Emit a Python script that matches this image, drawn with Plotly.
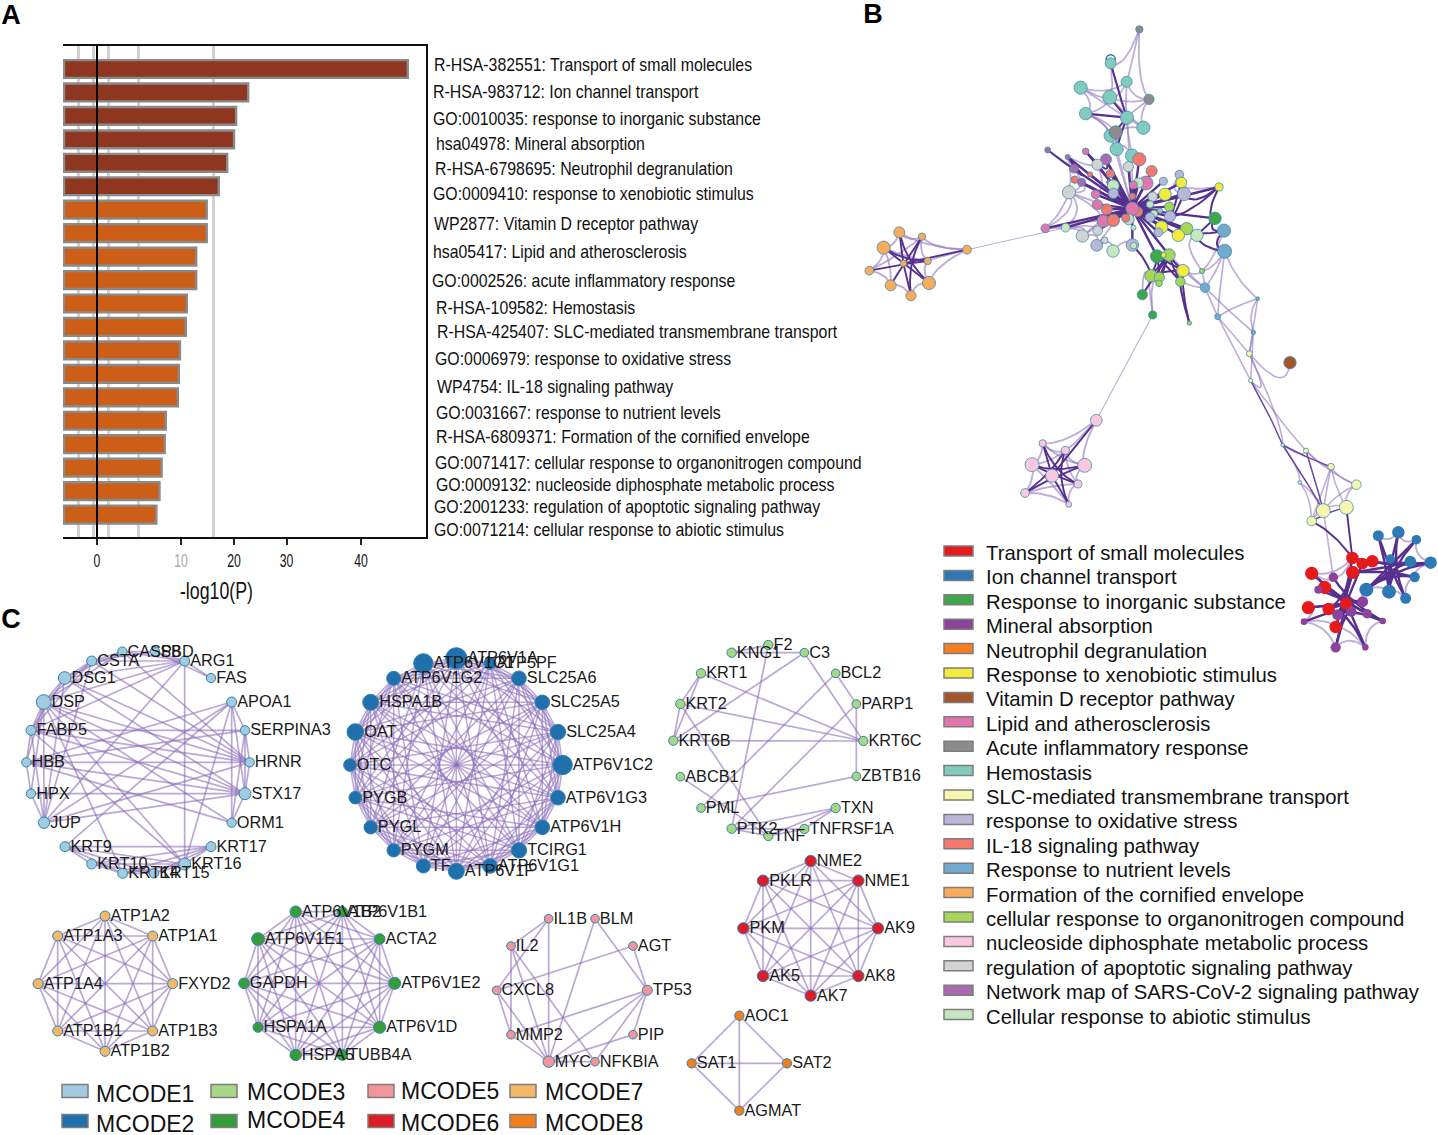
import plotly.graph_objects as go

W, H = 1438, 1135

# ---------- Panel A data ----------
bar_ends = [59.2, 28.8, 26.5, 26.1, 24.8, 23.2, 20.9, 20.9, 18.9, 18.9,
            17.1, 16.9, 15.8, 15.6, 15.4, 13.1, 12.9, 12.3, 11.9, 11.3]
n_dark_bars = 6
tick_vals = [0, 16, 26.1, 36.1, 50.3]
tick_text = ["0", '<span style="color:#a8a8a8">10</span>', "20", "30", "40"]
grid_vals = [-3.6, -0.7, 2.1, 7.9, 22.1]
term_labels = [
    "R-HSA-382551: Transport of small molecules",
    "R-HSA-983712: Ion channel transport",
    "GO:0010035: response to inorganic substance",
    "hsa04978: Mineral absorption",
    "R-HSA-6798695: Neutrophil degranulation",
    "GO:0009410: response to xenobiotic stimulus",
    "WP2877: Vitamin D receptor pathway",
    "hsa05417: Lipid and atherosclerosis",
    "GO:0002526: acute inflammatory response",
    "R-HSA-109582: Hemostasis",
    "R-HSA-425407: SLC-mediated transmembrane transport",
    "GO:0006979: response to oxidative stress",
    "WP4754: IL-18 signaling pathway",
    "GO:0031667: response to nutrient levels",
    "R-HSA-6809371: Formation of the cornified envelope",
    "GO:0071417: cellular response to organonitrogen compound",
    "GO:0009132: nucleoside diphosphate metabolic process",
    "GO:2001233: regulation of apoptotic signaling pathway",
    "GO:0071214: cellular response to abiotic stimulus",
]
term_x = [434, 433, 433, 436, 435, 433, 434, 433, 432, 436, 437, 435, 437, 436, 436, 435, 436, 434, 434]
term_y = [66, 93, 120, 145, 170, 195, 225, 253, 282, 309, 333, 360, 388, 414, 438, 464, 486, 508, 531]

# ---------- Panel B legend ----------
cluster_names = [
    "Transport of small molecules", "Ion channel transport", "Response to inorganic substance",
    "Mineral absorption", "Neutrophil degranulation", "Response to xenobiotic stimulus",
    "Vitamin D receptor pathway", "Lipid and atherosclerosis", "Acute inflammatory response",
    "Hemostasis", "SLC-mediated transmembrane transport", "response to oxidative stress",
    "IL-18 signaling pathway", "Response to nutrient levels", "Formation of the cornified envelope",
    "cellular response to organonitrogen compound", "nucleoside diphosphate metabolic process",
    "regulation of apoptotic signaling pathway", "Network map of SARS-CoV-2 signaling pathway",
    "Cellular response to abiotic stimulus",
]
cluster_colors = [
    "#E41A1C", "#2E78B5", "#3FA64A", "#8C439C", "#F57F20", "#F2EA3C", "#A5562B", "#E275AE", "#8C8C8C", "#83CBBE",
    "#F6F6AE", "#B9B6D8", "#F6776C", "#74A9CF", "#F7AB5B", "#A6D55A", "#F9C8DF", "#D3D3D3", "#A96BB0", "#C6E6BF",
]

# ---------- Panel B network: (crop x, crop y, crop diameter, cluster) read from 3x views ----------
top_nodes = [(838,28,20,8),(752,130,30,9),(800,185,30,9),(662,203,36,9),(749,232,38,9),(867,238,28,8),
             (677,281,34,9),(801,293,36,9),(850,323,36,9),(752,347,36,9),(767,337,36,8),(770,387,36,9),(816,407,36,9)]
top_dark = [(1,7),(6,7),(4,7),(7,10),(7,11)]
top_light = [(0,2),(0,1),(0,5),(5,8),(3,4),(3,6),(3,7),(4,5),(6,4),(8,7),(8,10),(9,6),(10,11),(11,12),(7,12),(2,7),(5,7),(6,10),
             (3,2),(5,2),(8,4),(6,9),(2,4),(1,4),(9,11)]

core_nodes = [(563,390,16,18),(623,411,14,18),(677,394,18,7),(738,418,30,18),(642,446,24,18),(712,434,30,17),(805,440,28,17),
    (838,418,36,12),(875,453,30,12),(958,464,24,11),(690,463,14,12),(751,461,22,12),(644,479,20,12),(665,487,22,18),
    (750,488,18,18),(760,497,32,19),(964,488,30,5),(910,484,22,11),(858,489,38,7),(835,489,28,19),(820,495,22,7),
    (1077,501,22,5),(627,517,36,17),(707,523,24,7),(760,520,28,11),(817,529,18,12),(915,523,34,5),(972,522,36,11),
    (878,530,26,17),(870,553,20,19),(928,560,26,15),(712,554,28,7),(740,568,30,12),(833,575,28,12),(817,566,36,7),
    (900,572,14,11),(882,581,20,19),(870,592,26,11),(930,589,30,11),(1065,595,34,2),(730,603,34,7),(760,601,34,12),
    (806,598,30,17),(797,594,22,12),(617,623,24,19),(556,625,24,7),(905,621,34,5),(980,626,34,15),(1092,632,36,13),
    (713,632,26,17),(895,637,24,11),(820,623,14,19),(955,646,34,5),(1011,646,34,19),(667,648,34,17),(734,661,18,17),
    (710,676,32,11),(817,675,34,11),(821,677,18,19),(759,693,34,19),(1094,694,38,13),(891,709,36,2),(927,705,34,15),
    (911,705,14,5),(873,767,34,15),(898,772,28,15),(969,752,34,5),(961,785,26,15),(1026,753,14,15),(897,790,18,15),
    (1035,803,26,13),(847,824,28,2),(878,885,22,2),(988,909,12,15),(1073,890,16,13),(1180,937,12,13),(1193,836,10,13)]
core_hub = 34
core_hub_targets = [1,2,3,4,5,6,7,8,10,11,12,13,14,15,16,17,18,19,20,21,23,24,25,26,27,28,29,30,31,32,33,35,36,37,38,39,
                    40,41,42,43,44,45,46,47,49,50,52,53,57,61,62]
core_dark = [(0,1),(1,4),(2,3),(3,11),(21,27),(21,38),(21,39),(39,48),(47,48),(48,60),(53,60),(39,53),(27,38),(16,38),
             (61,64),(61,66),(61,67),(62,64),(62,65),(62,66),(62,67),(62,69),(61,69),(67,73),(66,73),(64,66),(62,71),(57,64)]
core_light = [(22,44),(45,44),(45,54),(44,54),(22,13),(22,40),(45,22),(45,1),(21,16),(53,68),(72,69),(71,64),(72,64),
              (54,56),(56,59),(59,57),(4,22),(1,3),(0,4),(5,23),(9,27),(54,40),(56,41),(45,40),(44,49),(54,32),(22,31)]
core_lower_light = [(60,68),(68,70),(70,74),(70,75),(76,75),(74,76),(60,70),(60,76),(48,68),(62,70),(67,70),(66,70),
                    (66,68),(60,74),(47,60)]

chain_nodes = [(870,68,34,6),(748,41,16,10),(752,122,12,10),(848,315,10,19),(918,332,14,10),(993,380,18,10),(899,427,10,19),
               (1069,434,26,10),(970,512,38,10),(1039,502,38,10),(935,543,26,10)]
chain_dark = [(2,3),(3,5),(3,8),(4,8),(10,9)]
chain_light = [(1,0),(1,2),(1,3),(3,4),(3,6),(4,5),(5,7),(5,8),(5,9),(6,8),(6,10),(7,9),(7,8),(8,9),(10,8),(5,10),(4,7),(2,4)]

nucleoside_nodes = [(289,241,32,16),(128,310,20,16),(196,331,22,16),(96,374,38,16),(254,376,38,16),(156,407,36,16),
                    (234,432,22,16),(75,459,24,16),(206,493,16,16)]
nucleoside_dark = [(1,6),(2,7),(3,4),(8,2),(0,5),(7,4),(3,6),(5,1),(5,8)]
nucleoside_light = [(0,1),(0,4),(0,2),(1,2),(1,3),(2,4),(3,7),(4,6),(6,8),(7,8),(3,8),(1,4),(7,6),(2,6),(3,2)]

cornified_nodes = [(321,689,24,14),(118,637,30,14),(186,650,20,14),(71,683,36,14),(203,723,20,14),(130,730,18,14),
                   (28,752,24,14),(207,789,36,14),(92,796,30,14),(153,827,28,14)]
cornified_dark = [(1,7),(2,8),(3,4),(6,4),(9,2),(0,5),(3,7),(5,1),(5,9)]
cornified_light = [(1,2),(1,3),(3,6),(6,8),(8,9),(9,7),(7,4),(2,4),(3,8),(0,2),(0,7),(0,1),(3,4),(0,4),(6,2)]

tail_nodes = [(1135,587,30,1),(1195,577,34,1),(1249,599,26,1),(1171,657,26,1),(1231,665,32,1),(1292,668,34,1),(1244,711,28,1),
              (1099,749,38,1),(1167,755,38,1),(1217,775,30,1),
              (1057,654,34,0),(1087,671,32,0),(1117,664,34,0),(935,700,36,0),(1058,697,36,0),(974,742,36,0),(925,803,36,0),
              (986,807,34,0),(1038,791,34,0),(1007,861,34,0),
              (1000,712,26,3),(955,749,22,3),(1088,785,30,3),(1013,824,30,3),(1054,815,28,3),(1101,821,26,3),(912,845,18,3),
              (1148,843,18,3),(1007,922,28,3),(1096,922,18,3)]
tail_blue_dark = [(0,9),(1,8),(2,7),(4,7),(5,7),(6,7),(3,8),(5,12),(6,14),(2,8),(4,14),(5,10),(0,8),(1,9)]
tail_blue_light = [(0,1),(1,2),(2,5),(5,6),(6,9),(9,8),(8,7),(4,5),(3,4)]
tail_red_dark = [(13,18),(15,18),(16,18),(17,14),(19,10),(21,22),(23,14),(26,24),(28,18),(28,24),(29,23),(16,22),(27,23),
                 (27,20),(13,25),(15,25),(17,18),(11,18),(29,24),(19,14)]
tail_red_light = [(16,26),(26,28),(28,29),(29,27),(27,25),(25,22),(22,7),(10,13),(13,20),(20,10),(26,19),(19,29),(24,27)]

# ---------- Panel C modules: (gene, crop x, crop y, crop diameter) ----------
m1_nodes = [("ARG1",524,93,30),("FAS",603,144,28),("APOA1",665,216,30),("SERPINA3",705,301,28),("HRNR",719,397,28),
    ("STX17",705,491,36),("ORM1",665,578,28),("KRT17",603,650,30),("KRT16",524,702,36),("KRT15",432,730,28),
    ("KRT14",338,730,30),("KRT10",245,702,30),("KRT9",165,650,30),("JUP",102,578,34),("HPX",63,491,28),("HBB",49,397,28),
    ("FABP5",63,301,30),("DSP",101,216,44),("DSG1",164,144,38),("CSTA",245,93,30),("CASP8",337,65,28),("SBD",435,65,28)]
m1_edges = [(0,1),(0,21),(0,20),(0,19),(0,18),(0,17),(0,16),(0,8),(0,13),(1,21),(2,3),(2,6),(2,5),(2,8),(2,13),(2,12),(2,15),
    (3,4),(3,5),(3,6),(3,16),(3,15),(4,5),(4,13),(4,15),(4,16),(4,17),(4,18),(4,19),(4,20),(5,6),(5,13),(5,14),(5,15),(5,16),
    (5,17),(5,18),(6,15),(6,17),(7,8),(7,9),(7,10),(7,11),(7,12),(8,9),(8,10),(8,11),(8,12),(8,17),(8,16),(9,10),(9,11),(9,12),
    (10,11),(10,12),(10,17),(11,12),(13,14),(13,16),(13,17),(13,18),(13,19),(14,15),(14,17),(15,16),(15,17),(16,17),(16,18),
    (16,19),(17,18),(17,19),(17,20),(18,19),(18,20),(19,20),(20,21),(19,21)]
m2_nodes = [("ATP6V1A",349,85,64),("ATP5PF",450,100,36),("SLC25A6",537,145,44),("SLC25A5",607,217,44),("SLC25A4",654,306,46),
    ("ATP6V1C2",668,405,58),("ATP6V1G3",654,503,44),("ATP6V1H",607,592,44),("TCIRG1",537,661,46),("ATP6V1G1",450,708,44),
    ("ATP6V1F",349,724,48),("TF",250,708,42),("PYGM",161,661,40),("PYGL",92,592,40),("PYGB",46,503,38),("OTC",30,405,38),
    ("OAT",46,306,50),("HSPA1B",92,217,48),("ATP6V1G2",161,145,42),("ATP6V1C1",250,100,58)]
m2_chord_steps = [1, 2, 3, 4, 6, 7, 9, 10]
m3_nodes = [("F2",325,45,28),("C3",433,68,26),("BCL2",527,130,26),("PARP1",589,222,26),("KRT6C",610,333,28),("ZBTB16",589,439,26),
    ("TXN",527,534,28),("TNFRSF1A",433,597,28),("TNF",325,618,28),("PTK2",215,596,28),("PML",123,534,26),("ABCB1",61,440,26),
    ("KRT6B",40,332,28),("KRT2",61,222,28),("KRT1",123,130,28),("KNG1",215,68,28)]
m3_edges = [(0,15),(15,1),(0,9),(1,4),(1,12),(2,3),(2,10),(3,9),(3,5),(14,4),(13,4),(12,4),(14,13),(14,12),(13,12),(13,8),
            (11,8),(5,10),(6,7),(6,8),(6,9),(7,8),(9,8),(9,7)]
m4_nodes = [("ATP6V1B2",887,65,34),("ATP6V1B1",1027,65,30),("ACTA2",1139,147,32),("ATP6V1E2",1184,280,36),("ATP6V1D",1139,412,36),
    ("TUBB4A",1027,495,32),("HSPA5",887,495,34),("HSPA1A",774,412,30),("GAPDH",732,280,32),("ATP6V1E1",774,147,38)]
m5_nodes = [("IL1B",206,236,26),("BLM",345,236,26),("AGT",459,318,26),("TP53",502,451,30),("PIP",459,584,26),("NFKBIA",345,665,26),
    ("MYC",206,665,34),("MMP2",93,584,26),("CXCL8",50,451,26),("IL2",93,318,26)]
m5_edges = [(0,9),(0,8),(0,6),(9,7),(9,6),(9,5),(8,7),(8,6),(8,2),(7,6),(7,3),(6,5),(6,3),(6,4),(5,3),(4,3),(2,3),(1,3),(1,6)]
m6_nodes = [("NME2",992,63,34),("NME1",1135,122,34),("AK9",1194,265,34),("AK8",1135,408,34),("AK7",992,467,34),("AK5",849,408,34),
    ("PKM",790,265,34),("PKLR",849,122,34)]
m7_nodes = [("ATP1A2",315,78,30),("ATP1A1",458,138,30),("FXYD2",518,281,30),("ATP1B3",458,423,30),("ATP1B2",315,484,30),
    ("ATP1B1",173,423,30),("ATP1A4",114,281,30),("ATP1A3",173,138,30)]
m8_nodes = [("AOC1",778,527,28),("SAT2",921,670,28),("AGMAT",778,812,28),("SAT1",635,670,28)]

mcode_names = ["MCODE1", "MCODE2", "MCODE3", "MCODE4", "MCODE5", "MCODE6", "MCODE7", "MCODE8"]
mcode_colors = ["#A3CBE0", "#1F70AC", "#A7D687", "#359E3A", "#F29599", "#DC1C26", "#F5B868", "#F0801E"]
mcode_swatch = [(62, 1091), (62, 1121), (211, 1091), (211, 1121), (368, 1091), (368, 1121), (510, 1091), (510, 1121)]
mcode_text_y = [1096, 1126, 1094, 1122, 1093, 1125, 1094, 1125]
mcode_text_x = [96, 96, 247, 247, 401, 401, 545, 545]

# ---------- helpers ----------
EDGE_LIGHT = "rgba(146,120,190,0.6)"
EDGE_DARK = "#56308F"
NARROW = "Liberation Sans, Arimo"   # condensed by the page script below
B_NODE_SCALE = 1.1


def cvt(p, ox, oy):
    return ox + p[0] / 3.0, oy + p[1] / 3.0


def bezier_segments(pairs, centre, pull):
    xs, ys = [], []
    for a, b in pairs:
        cx = (a[0] + b[0]) / 2 + pull * (centre[0] - (a[0] + b[0]) / 2)
        cy = (a[1] + b[1]) / 2 + pull * (centre[1] - (a[1] + b[1]) / 2)
        for k in range(13):
            t = k / 12
            xs.append((1 - t) ** 2 * a[0] + 2 * t * (1 - t) * cx + t ** 2 * b[0])
            ys.append((1 - t) ** 2 * a[1] + 2 * t * (1 - t) * cy + t ** 2 * b[1])
        xs.append(None)
        ys.append(None)
    return xs, ys


fig = go.Figure()
XA = dict(xaxis="x2", yaxis="y2")


def add_edges(pairs, centre, pull, color, width):
    xs, ys = bezier_segments(pairs, centre, pull)
    fig.add_trace(go.Scatter(x=xs, y=ys, mode="lines", line=dict(color=color, width=width),
                             hoverinfo="skip", showlegend=False, **XA))


# ---------- Panel A ----------
x_left = -6.29
bar_colors = ["#8E3620" if i < n_dark_bars else "#CC5E17" for i in range(len(bar_ends))]
fig.add_trace(go.Bar(y=list(range(len(bar_ends))), x=[v - x_left for v in bar_ends], base=x_left, orientation="h",
                     width=0.76, marker=dict(color=bar_colors, line=dict(color="#8A8A8A", width=2.4)),
                     showlegend=False, hoverinfo="skip"))
fig.add_trace(go.Scatter(x=[0, 0], y=[-0.98, 20.22], mode="lines", line=dict(color="black", width=2),
                         cliponaxis=False, showlegend=False, hoverinfo="skip"))
fig.add_trace(go.Scatter(x=term_x, y=term_y, text=term_labels, mode="text", textposition="middle right",
                         textfont=dict(family=NARROW, size=18.5, color="#111"),
                         showlegend=False, hoverinfo="skip", **XA))
fig.add_trace(go.Scatter(x=[216.5], y=[593], text=["-log10(P)"], mode="text", textposition="middle center",
                         textfont=dict(family=NARROW, size=24, color="#111"),
                         showlegend=False, hoverinfo="skip", **XA))


# ---------- Panel B ----------
def px_nodes(nodes, ox, oy):
    return [cvt(n, ox, oy) for n in nodes]


top_px = px_nodes(top_nodes, 860, 20)
core_px = px_nodes(core_nodes, 860, 20)
chain_px = px_nodes(chain_nodes, 1000, 340)
nuc_px = px_nodes(nucleoside_nodes, 1000, 340)
corn_px = px_nodes(cornified_nodes, 860, 20)
tail_px = px_nodes(tail_nodes, 1000, 340)

top_c = cvt((785, 290), 860, 20)
core_c = core_px[core_hub]
lower_c = cvt((1060, 850), 860, 20)
chain_c = cvt((975, 440), 1000, 340)
nuc_c = nuc_px[5]
corn_c = corn_px[5]
blue_c = cvt((1163, 685), 1000, 340)
red_c = cvt((1035, 790), 1000, 340)


def P(lst, edges):
    return [(lst[a], lst[b]) for a, b in edges]


# light edges first
add_edges(P(top_px, top_light), top_c, 0.35, EDGE_LIGHT, 1.8)
add_edges(P(core_px, core_light), core_c, 0.3, EDGE_LIGHT, 1.8)
add_edges(P(core_px, core_lower_light), lower_c, 0.2, EDGE_LIGHT, 1.7)
add_edges(P(chain_px, chain_light), chain_c, 0.3, EDGE_LIGHT, 1.6)
add_edges(P(nuc_px, nucleoside_light), nuc_c, 0.3, EDGE_LIGHT, 1.9)
add_edges(P(corn_px, cornified_light), corn_c, 0.3, EDGE_LIGHT, 1.9)
add_edges(P(tail_px, tail_blue_light), blue_c, 0.3, EDGE_LIGHT, 1.9)
add_edges(P(tail_px, tail_red_light), red_c, 0.3, EDGE_LIGHT, 1.9)
bridges_thin = [(corn_px[0], core_px[44]), (nuc_px[0], core_px[72])]
add_edges(bridges_thin, core_c, 0.0, "rgba(146,120,190,0.6)", 1.1)
bridges_light = [(core_px[74], chain_px[1]), (core_px[75], chain_px[1]), (core_px[76], chain_px[1]),
                 (core_px[74], chain_px[2]), (core_px[75], chain_px[2]),
                 (chain_px[8], tail_px[20]),
                 (top_px[11], core_px[34]), (top_px[12], core_px[34]), (top_px[9], core_px[34]), (top_px[7], core_px[34])]
add_edges(bridges_light, chain_c, 0.0, EDGE_LIGHT, 1.6)
# dark edges
add_edges(P(top_px, top_dark), top_c, 0.2, EDGE_DARK, 2.1)
add_edges([(core_px[core_hub], core_px[t]) for t in core_hub_targets], core_c, 0.05, EDGE_DARK, 2.4)
add_edges(P(core_px, core_dark), cvt((915, 720), 860, 20), 0.25, EDGE_DARK, 2.0)
add_edges(P(chain_px, chain_dark), chain_c, 0.1, "#6A4AA3", 1.5)
add_edges([(chain_px[9], tail_px[10]), (chain_px[10], tail_px[10])], chain_px[9], 0.2, EDGE_DARK, 1.9)
add_edges(P(nuc_px, nucleoside_dark), nuc_c, 0.75, EDGE_DARK, 1.9)
add_edges(P(corn_px, cornified_dark), corn_c, 0.75, EDGE_DARK, 1.9)
add_edges(P(tail_px, tail_blue_dark), blue_c, 0.75, EDGE_DARK, 2.4)
add_edges(P(tail_px, tail_red_dark), red_c, 0.75, EDGE_DARK, 2.4)

# open ring above the top hemostasis node
ring = cvt((752, 118), 860, 20)
fig.add_trace(go.Scatter(x=[ring[0]], y=[ring[1]], mode="markers",
                         marker=dict(size=9, color="white", line=dict(color="#2A7C9E", width=1.5)),
                         showlegend=False, hoverinfo="skip", **XA))

for nodes, pts in [(top_nodes, top_px), (core_nodes, core_px), (chain_nodes, chain_px), (nucleoside_nodes, nuc_px),
                   (cornified_nodes, corn_px), (tail_nodes, tail_px)]:
    is_tail = nodes is tail_nodes
    fig.add_trace(go.Scatter(
        x=[p[0] for p in pts], y=[p[1] for p in pts], mode="markers",
        marker=dict(size=[B_NODE_SCALE * n[2] / 3 for n in nodes], color=[cluster_colors[n[3]] for n in nodes],
                    line=dict(color="#3E8FA8", width=0 if is_tail else 0.8), opacity=1),
        showlegend=False, hoverinfo="skip", **XA))

# legend for panel B
swatch_shapes = []
legend_y = [551 + 24.4 * i for i in range(len(cluster_names))]
for i, col in enumerate(cluster_colors):
    swatch_shapes.append(dict(type="rect", xref="x2", yref="y2", x0=944, x1=973, y0=legend_y[i] - 5, y1=legend_y[i] + 5,
                              fillcolor=col, line=dict(color="#7D7D7D", width=1.5), layer="above"))
fig.add_trace(go.Scatter(x=[986] * len(cluster_names), y=[y + 4 for y in legend_y], text=cluster_names, mode="text",
                         textposition="middle right", textfont=dict(family="Liberation Sans", size=20.3, color="#111"),
                         showlegend=False, hoverinfo="skip", **XA))


# ---------- Panel C ----------
def chord_edges(n, steps):
    out = []
    for s in steps:
        for i in range(n):
            j = (i + s) % n
            if s == n / 2 and i >= n / 2:
                continue
            out.append((i, j))
    return out


modules = [
    (m1_nodes, 10, 630, m1_edges, 0),
    (m2_nodes, 340, 630, chord_edges(len(m2_nodes), m2_chord_steps), 1),
    (m3_nodes, 660, 630, m3_edges, 2),
    (m4_nodes, 0, 890, chord_edges(len(m4_nodes), [1, 2, 3, 4, 5]), 3),
    (m5_nodes, 480, 840, m5_edges, 4),
    (m6_nodes, 480, 840, chord_edges(len(m6_nodes), [1, 2, 3, 4]), 5),
    (m7_nodes, 0, 890, chord_edges(len(m7_nodes), [1, 2, 3, 4]), 6),
    (m8_nodes, 480, 840, chord_edges(len(m8_nodes), [1, 2]), 7),
]
for nodes, ox, oy, edges, mc in modules:
    pts = [cvt((n[1], n[2]), ox, oy) for n in nodes]
    xs, ys = bezier_segments([(pts[a], pts[b]) for a, b in edges], (0, 0), 0.0)
    fig.add_trace(go.Scatter(x=xs, y=ys, mode="lines",
                             line=dict(color="rgba(140,110,185,0.6)", width=1.5 if mc == 1 else 1.7),
                             hoverinfo="skip", showlegend=False, **XA))
for nodes, ox, oy, edges, mc in modules:
    pts = [cvt((n[1], n[2]), ox, oy) for n in nodes]
    fig.add_trace(go.Scatter(
        x=[p[0] for p in pts], y=[p[1] for p in pts], mode="markers",
        marker=dict(size=[n[3] / 3 for n in nodes], color=mcode_colors[mc], opacity=1,
                    line=dict(color="#2F84B0", width=1)),
        showlegend=False, hoverinfo="skip", **XA))
    fig.add_trace(go.Scatter(
        x=[p[0] + n[3] / 6 + 0.5 for p, n in zip(pts, nodes)], y=[p[1] + 1 for p in pts],
        text=[n[0] for n in nodes], mode="text", textposition="middle right",
        textfont=dict(family="Liberation Sans", size=16.3, color="#1a1a1a"),
        showlegend=False, hoverinfo="skip", **XA))

for i, col in enumerate(mcode_colors):
    sx, sy = mcode_swatch[i]
    swatch_shapes.append(dict(type="rect", xref="x2", yref="y2", x0=sx, x1=sx + 26, y0=sy - 6.5, y1=sy + 6.5,
                              fillcolor=col, line=dict(color="#7D7D7D", width=1.5), layer="above"))
fig.add_trace(go.Scatter(x=mcode_text_x, y=mcode_text_y, text=mcode_names, mode="text", textposition="middle right",
                         textfont=dict(family="Liberation Sans", size=23, color="#111"),
                         showlegend=False, hoverinfo="skip", **XA))

# panel letters
fig.add_trace(go.Scatter(x=[11, 873, 11], y=[17, 16, 621], text=["<b>A</b>", "<b>B</b>", "<b>C</b>"], mode="text",
                         textfont=dict(family="Liberation Sans", size=27, color="black"),
                         showlegend=False, hoverinfo="skip", **XA))

# ---------- layout ----------
left_px, right_px, top_px_a, bot_px = 63, 426, 46, 537
fig.update_layout(
    width=W, height=H, margin=dict(l=0, r=0, t=0, b=0), paper_bgcolor="white", plot_bgcolor="rgba(0,0,0,0)",
    showlegend=False, shapes=swatch_shapes,
    xaxis=dict(domain=[left_px / W, right_px / W], range=[(left_px - 97) / 5.25, (right_px - 97) / 5.25],
               tickmode="array", tickvals=tick_vals, ticktext=tick_text, ticks="outside", ticklen=6, tickwidth=1.5,
               tickcolor="#222", showgrid=False, zeroline=False, showline=True, linecolor="#111", linewidth=1.6,
               mirror=True, anchor="y",
               tickfont=dict(family=NARROW, size=18.5, color="#111"),
               minor=dict(tickmode="array", tickvals=grid_vals, showgrid=True, gridcolor="#D2D2D2", gridwidth=3, ticks="")),
    yaxis=dict(domain=[1 - bot_px / H, 1 - top_px_a / H], range=[(bot_px - 69) / 23.45, (top_px_a - 69) / 23.45],
               side="right", showticklabels=False, ticks="", showgrid=False, zeroline=False,
               showline=True, linecolor="#111", linewidth=1.6, anchor="x"),
    xaxis2=dict(domain=[0, 1], range=[0, W], visible=False, anchor="y2"),
    yaxis2=dict(domain=[0, 1], range=[H, 0], visible=False, anchor="x2"),
    font=dict(family="Liberation Sans"),
)

squeeze_js = """
document.body.style.margin='0';document.body.style.overflow='hidden';
function squeezeText(){
  document.querySelectorAll('svg text').forEach(function(t){
    if(t.dataset.sq||!(t.style.fontFamily||'').includes('Arimo'))return;
    var f=0.857;
    if(t.closest('.xtick'))f=0.66;
    if(t.textContent.indexOf('log10')>=0)f=0.74;
    var w=t.getComputedTextLength();
    if(!w)return;
    t.setAttribute('lengthAdjust','spacingAndGlyphs');
    t.setAttribute('textLength',(w*f).toFixed(1));
    t.dataset.sq='1';
  });
}
squeezeText();setTimeout(squeezeText,50);setTimeout(squeezeText,300);
"""
fig.write_html("out.html", post_script=squeeze_js, config={"displayModeBar": False})
